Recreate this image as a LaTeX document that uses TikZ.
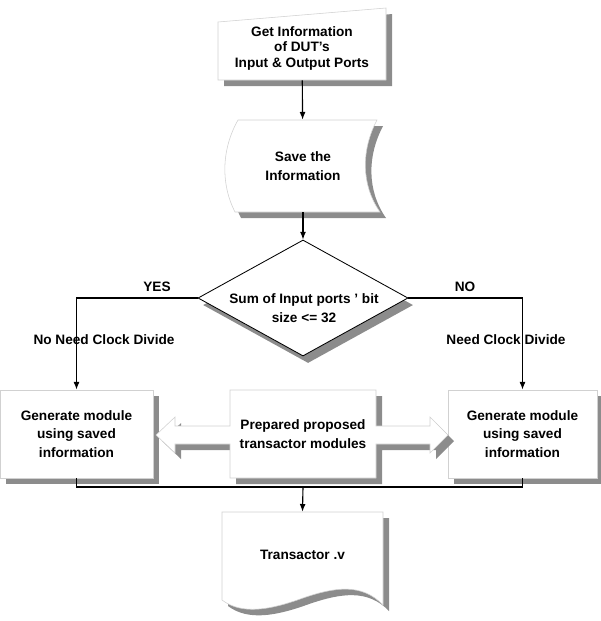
\documentclass[tikz,border=0pt]{standalone}
\usepackage{fontspec}
\setmainfont{Liberation Sans}
\usetikzlibrary{shapes.geometric,shadows,arrows.meta}

\begin{document}
\begin{tikzpicture}[x=0.025cm, y=-0.025cm,
  txt/.style={font=\fontsize{9.7}{13}\selectfont\bfseries, align=center, inner sep=0pt},
  outline/.style={draw=black!18, fill=white,
    drop shadow={shadow xshift=4.3pt, shadow yshift=-4.3pt, fill=black!45, opacity=1}},
  flow/.style={line width=0.8pt, -{Latex[length=5.5pt,width=4.2pt]}}]
  \useasboundingbox (0,0) rectangle (601,621);

  % flow shapes
  \path[outline] (218,80) -- (218,22) -- (386,8) -- (386,80) -- cycle;
  \node[txt, font=\fontsize{9.7}{11}\selectfont\bfseries, minimum width=4.2cm, minimum height=1.6cm] (getinfo) at (302,48)
    {Get Information\\of DUT’s\\Input \& Output Ports};

  \path[outline] (238,120) -- (377,120) .. controls (361,150) and (361,185) .. (380,212)
    -- (235,212) .. controls (221,185) and (221,150) .. (238,120) -- cycle;
  \node[txt, minimum width=3.75cm, minimum height=2.3cm] (savei) at (303,166) {Save the\\Information};

  \node[diamond, draw=black, line width=0.6pt, fill=white, inner sep=0pt,
    minimum width=5.25cm, minimum height=2.9cm,
    drop shadow={shadow xshift=3.6pt, shadow yshift=-5pt, fill=black!45, opacity=1}] (cond) at (303,298) {};
  \node[txt] (condtxt) at (304,308) {Sum of Input ports ’ bit\\size <= 32};

  \node[txt, outline, minimum width=3.825cm, minimum height=2.2cm] (genL) at (76.5,434)
    {Generate module\\using saved\\information};
  \node[txt, outline, minimum width=3.725cm, minimum height=2.2cm] (genR) at (522.5,434)
    {Generate module\\using saved\\information};

  \path[outline] (230,390) -- (376,390) -- (376,426) -- (430,426) -- (430,417) -- (448,435)
    -- (430,453) -- (430,444) -- (376,444) -- (376,478) -- (230,478) -- (230,444)
    -- (175,444) -- (175,453) -- (156,435) -- (175,417) -- (175,426) -- (230,426) -- cycle;
  \node[txt, minimum width=3.65cm, minimum height=2.2cm] (prep) at (303,434)
    {Prepared proposed\\transactor modules};

  \path[outline] (222,512) -- (383,512) -- (383,605) .. controls (362,583) and (335,587) .. (303,598)
    .. controls (270,610) and (242,615) .. (222,600) -- cycle;
  \node[txt, minimum width=4.025cm, minimum height=2.15cm] (trans) at (302.5,555) {Transactor .v};

  % branch labels
  \node[txt] (yes) at (157,287) {YES};
  \node[txt] (no) at (465,287) {NO};
  \node[txt] (noneed) at (104,340) {No Need Clock Divide};
  \node[txt] (need) at (506,340) {Need Clock Divide};

  % connectors
  \draw[flow] (getinfo) -- (savei);
  \draw[flow] (savei) -- (cond);
  \draw[flow] (cond.west) -| (genL.north);
  \draw[flow] (cond.east) -| (genR.north);
  \coordinate (join) at (303,487);
  \draw[line width=0.8pt] (genL.south) |- (join) -| (genR.south);
  \draw[flow] (join) -- (trans.north);
\end{tikzpicture}
\end{document}
